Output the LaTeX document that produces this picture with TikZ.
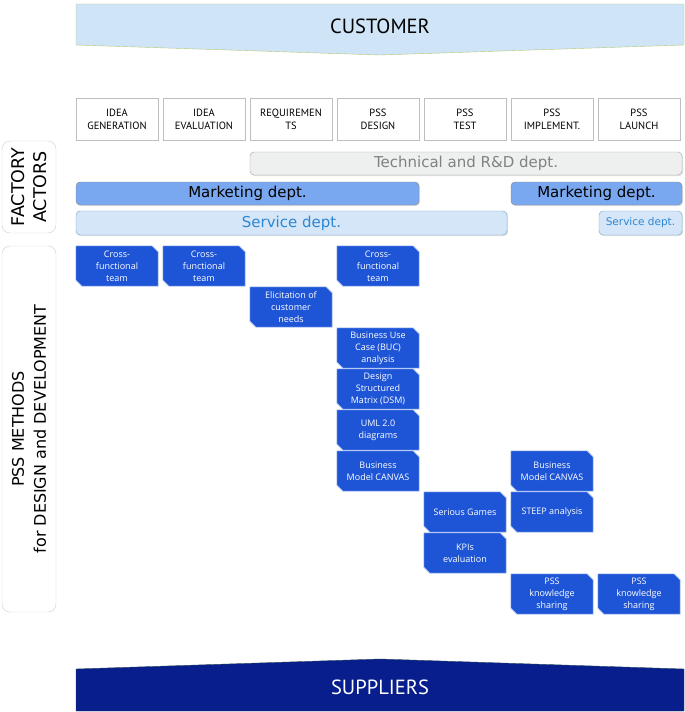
\documentclass[tikz,border=0pt]{standalone}
\usepackage{fontspec}
\setmainfont{DejaVu Sans}
\newfontfamily\ptsans{PT Sans}
\newfontfamily\opensans{Open Sans}
\usetikzlibrary{shadows,backgrounds}

\definecolor{custfill}{RGB}{207,228,247}
\definecolor{custline}{RGB}{180,200,120}
\definecolor{phaseline}{RGB}{190,190,190}
\definecolor{techfill}{RGB}{238,240,240}
\definecolor{techline}{RGB}{160,165,165}
\definecolor{techtext}{RGB}{125,130,130}
\definecolor{mktfill}{RGB}{122,168,240}
\definecolor{mktline}{RGB}{140,130,130}
\definecolor{servfill}{RGB}{212,230,248}
\definecolor{servline}{RGB}{120,160,200}
\definecolor{servtext}{RGB}{45,135,210}
\definecolor{sideline}{RGB}{200,210,210}
\definecolor{methodblue}{RGB}{30,85,215}
\definecolor{supfill}{RGB}{8,30,140}
\definecolor{supline}{RGB}{40,70,90}

\tikzset{
  bannertext/.style={inner sep=0pt, font=\ptsans\fontsize{20.5}{22}\selectfont},
  phasebox/.style={draw=phaseline, fill=white, minimum width=82pt, minimum height=42pt,
    inner sep=0pt, align=center, font=\ptsans\fontsize{10.5}{13}\selectfont},
  dept/.style={rounded corners=4pt, inner sep=0pt, minimum height=23pt,
    drop shadow={shadow xshift=1pt, shadow yshift=-1pt, opacity=0.25}},
  techdept/.style={dept, fill=techfill, draw=techline, text=techtext, font=\fontsize{15}{17}\selectfont},
  mktdept/.style={dept, fill=mktfill, draw=mktline, text=black, font=\fontsize{15}{17}\selectfont},
  servdept/.style={dept, fill=servfill, draw=servline, text=servtext, font=\fontsize{15}{17}\selectfont},
  sidebox/.style={draw=sideline, fill=white, rounded corners=8pt, rotate=90, minimum height=54pt,
    inner sep=0pt, align=center, font=\fontsize{17.5}{22}\selectfont},
  method/.style={minimum width=82pt, minimum height=40pt, inner sep=0pt, align=center,
    text=white, font=\opensans\fontsize{9}{12}\selectfont},
  methodfill/.style={fill=methodblue, draw=white!70!methodblue, line width=0.6pt}
}

\begin{document}
\begin{tikzpicture}[x=1pt,y=-1pt]
  \useasboundingbox (0,0) rectangle (685,712);

  % customer and suppliers
  \filldraw[fill=custfill, draw=custline] (76,4) -- (684,4) -- (684,45) -- (380,55) -- (76,45) -- cycle;
  \node[bannertext] (cust) at (380,26) {CUSTOMER};
  \filldraw[fill=supfill, draw=supline] (76,669) -- (380,659) -- (684,669) -- (684,711) -- (76,711) -- cycle;
  \node[bannertext, text=white] (supp) at (380,687) {SUPPLIERS};

  % phases
  \foreach \i/\txt in {1/{IDEA\\GENERATION}, 2/{IDEA\\EVALUATION}, 3/{REQUIREMEN\\TS},
      4/{PSS\\DESIGN}, 5/{PSS\\TEST}, 6/{PSS\\IMPLEMENT.}, 7/{PSS\\LAUNCH}}
    {\node[phasebox] (ph\i) at ({117+87*(\i-1)},119) {\txt};}

  % side labels
  \node[sidebox, minimum width=92pt] (actors) at (29,187) {FACTORY\\ACTORS};
  \node[sidebox, minimum width=366pt, font=\fontsize{16}{22}\selectfont] (methods) at (29,429) {PSS METHODS\\for DESIGN and DEVELOPMENT};

  % departments
  \node[techdept, minimum width=432pt] (tech) at (466,163.5) {Technical and R\&D dept.};
  \node[mktdept, minimum width=343pt] (mkt1) at (247.5,193.5) {Marketing dept.};
  \node[mktdept, minimum width=171pt] (mkt2) at (596.5,193.5) {Marketing dept.};
  \node[servdept, minimum width=431pt, minimum height=24pt] (serv1) at (291.5,223) {Service dept.};
  \node[servdept, minimum width=83pt, minimum height=24pt, font=\fontsize{10.5}{12}\selectfont] (serv2) at (640.5,223) {Service dept.};

  % methods (column/row), corners cut top right and bottom left
  \foreach \c/\r/\nm/\txt in {
      1/1/cft1/{Cross-\\functional\\team}, 2/1/cft2/{Cross-\\functional\\team},
      4/1/cft3/{Cross-\\functional\\team}, 3/2/elic/{Elicitation of\\customer\\needs},
      4/3/buc/{Business Use\\Case (BUC)\\analysis}, 4/4/dsm/{Design\\Structured\\Matrix (DSM)},
      4/5/uml/{UML 2.0\\diagrams}, 4/6/bmc1/{Business\\Model CANVAS},
      6/6/bmc2/{Business\\Model CANVAS}, 5/7/games/{Serious Games},
      6/7/steep/{STEEP analysis}, 5/8/kpi/{KPIs\\evaluation},
      6/9/know1/{PSS\\knowledge\\sharing}, 7/9/know2/{PSS\\knowledge\\sharing}}
    {\node[method] (\nm) at ({117+87*(\c-1)},{266+41*(\r-1)}) {\txt};
     \begin{scope}[on background layer]
       \filldraw[methodfill] (\nm.north west) -- ([xshift=-6pt]\nm.north east) -- ([yshift=-6pt]\nm.north east)
         -- (\nm.south east) -- ([xshift=6pt]\nm.south west) -- ([yshift=6pt]\nm.south west) -- cycle;
     \end{scope}}
\end{tikzpicture}
\end{document}
